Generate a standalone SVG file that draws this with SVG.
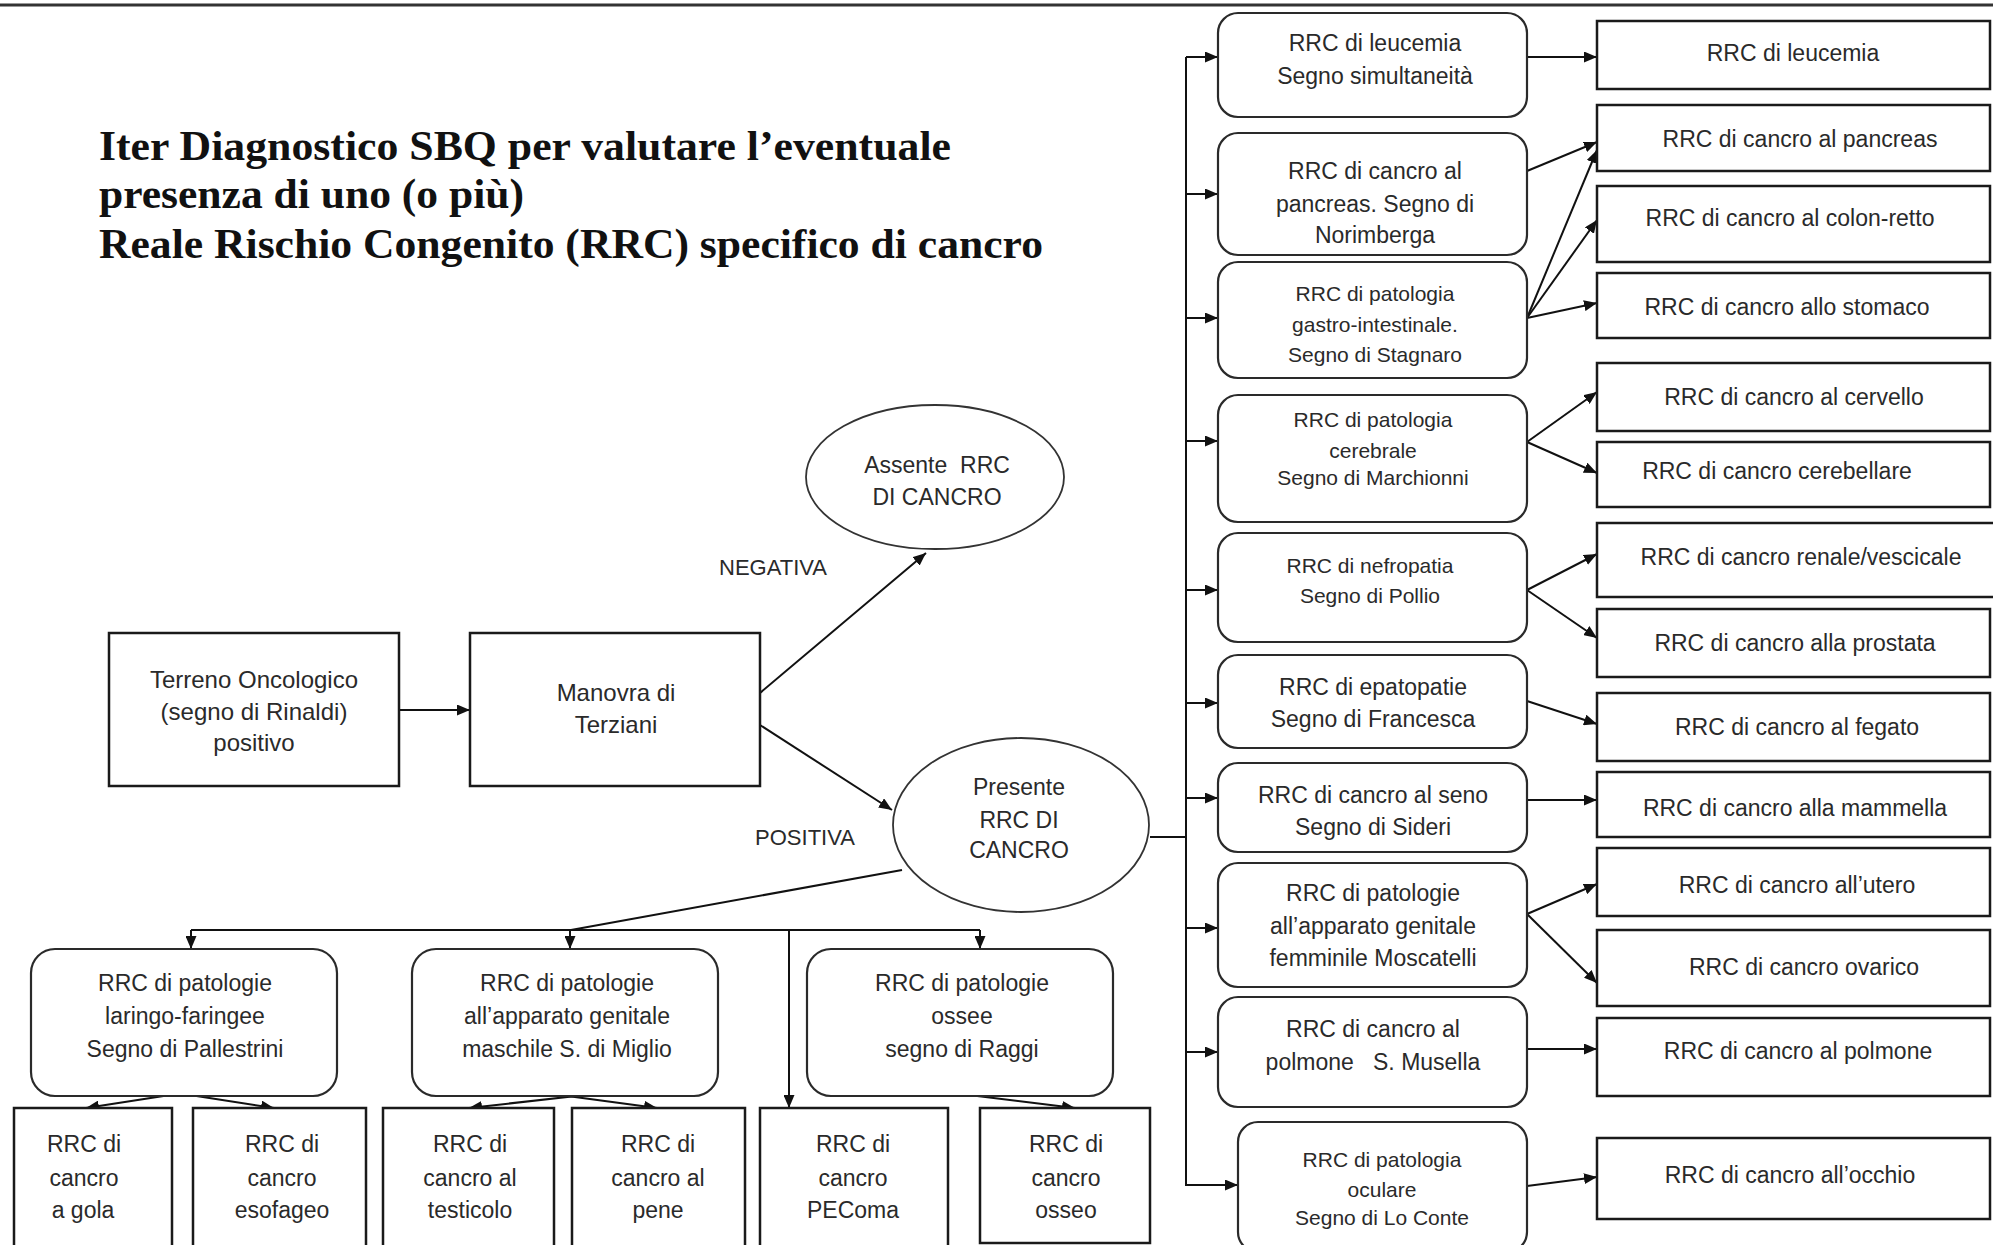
<svg xmlns="http://www.w3.org/2000/svg" width="1993" height="1245" viewBox="0 0 1993 1245">
<defs>
<marker id="arr" markerUnits="userSpaceOnUse" markerWidth="13" markerHeight="11" refX="13" refY="5.5" orient="auto">
<path d="M0,0 L13,5.5 L0,11 z" fill="#111"/>
</marker>
<style>
.bx{fill:#fff;stroke:#1a1a1a;stroke-width:2.5}
.rb{fill:#fff;stroke:#2a2a2a;stroke-width:2.2}
.el{fill:#fff;stroke:#333;stroke-width:1.8}
.t{font-family:"Liberation Sans",Arial,sans-serif;font-size:23px;fill:#2a2a2a;text-anchor:middle}
.s{font-size:21px}
.ttl{font-family:"Liberation Serif","Times New Roman",serif;font-weight:bold;font-size:43px;fill:#111}
.cn{fill:none;stroke:#111;stroke-width:2}
.ca{fill:none;stroke:#111;stroke-width:2;marker-end:url(#arr)}
</style>
</defs>
<rect x="0" y="0" width="1993" height="1245" fill="#fff"/>
<line x1="0" y1="5" x2="1993" y2="5" stroke="#333" stroke-width="3"/>
<g id="title">
<text class="ttl" x="99" y="160" textLength="852" lengthAdjust="spacingAndGlyphs">Iter Diagnostico SBQ per valutare l’eventuale</text>
<text class="ttl" x="99" y="208" textLength="425" lengthAdjust="spacingAndGlyphs">presenza di uno (o più)</text>
<text class="ttl" x="99" y="258" textLength="944" lengthAdjust="spacingAndGlyphs">Reale Rischio Congenito (RRC) specifico di cancro</text>
</g>

<g id="connectors">
<line class="ca" x1="399" y1="710" x2="470" y2="710"/>
<line class="ca" x1="760" y1="693" x2="926" y2="553"/>
<line class="ca" x1="760" y1="725" x2="892" y2="810"/>
<line class="cn" x1="1150" y1="837" x2="1186" y2="837"/>
<line class="cn" x1="1186" y1="57" x2="1186" y2="1186"/>
<line class="ca" x1="1186" y1="57" x2="1218" y2="57"/>
<line class="ca" x1="1186" y1="194" x2="1218" y2="194"/>
<line class="ca" x1="1186" y1="318" x2="1218" y2="318"/>
<line class="ca" x1="1186" y1="441" x2="1218" y2="441"/>
<line class="ca" x1="1186" y1="590" x2="1218" y2="590"/>
<line class="ca" x1="1186" y1="703" x2="1218" y2="703"/>
<line class="ca" x1="1186" y1="798" x2="1218" y2="798"/>
<line class="ca" x1="1186" y1="928" x2="1218" y2="928"/>
<line class="ca" x1="1186" y1="1052" x2="1218" y2="1052"/>
<line class="ca" x1="1186" y1="1185" x2="1238" y2="1185"/>
<line class="ca" x1="1527" y1="57" x2="1597" y2="57"/>
<line class="ca" x1="1527" y1="171" x2="1597" y2="142"/>
<line class="ca" x1="1527" y1="318" x2="1597" y2="150"/>
<line class="ca" x1="1527" y1="318" x2="1597" y2="220"/>
<line class="ca" x1="1527" y1="318" x2="1597" y2="303"/>
<line class="ca" x1="1527" y1="442" x2="1597" y2="392"/>
<line class="ca" x1="1527" y1="442" x2="1597" y2="473"/>
<line class="ca" x1="1527" y1="590" x2="1597" y2="554"/>
<line class="ca" x1="1527" y1="590" x2="1597" y2="638"/>
<line class="ca" x1="1527" y1="701" x2="1597" y2="724"/>
<line class="ca" x1="1527" y1="800" x2="1597" y2="800"/>
<line class="ca" x1="1527" y1="914" x2="1597" y2="884"/>
<line class="ca" x1="1527" y1="914" x2="1597" y2="983"/>
<line class="ca" x1="1527" y1="1049" x2="1597" y2="1049"/>
<line class="ca" x1="1527" y1="1186" x2="1597" y2="1177"/>
<line class="cn" x1="902" y1="870" x2="571" y2="930"/>
<line class="cn" x1="191" y1="930" x2="980" y2="930"/>
<line class="ca" x1="191" y1="930" x2="191" y2="949"/>
<line class="ca" x1="570" y1="930" x2="570" y2="949"/>
<line class="ca" x1="980" y1="930" x2="980" y2="949"/>
<line class="ca" x1="789" y1="930" x2="789" y2="1108"/>
<line class="ca" x1="170" y1="1095" x2="86" y2="1108"/>
<line class="ca" x1="190" y1="1095" x2="274" y2="1108"/>
<line class="ca" x1="585" y1="1095" x2="469" y2="1108"/>
<line class="ca" x1="560" y1="1095" x2="657" y2="1108"/>
<line class="ca" x1="969" y1="1095" x2="1075" y2="1108"/>
</g>

<g id="n-terreno"><rect class="bx" x="109" y="633" width="290" height="153"/>
<text class="t" x="254" y="688" style="font-size:24px">Terreno Oncologico</text>
<text class="t" x="254" y="720" style="font-size:24px">(segno di Rinaldi)</text>
<text class="t" x="254" y="751" style="font-size:24px">positivo</text></g>
<g id="n-manovra"><rect class="bx" x="470" y="633" width="290" height="153"/>
<text class="t" x="616" y="701" style="font-size:24px">Manovra di</text>
<text class="t" x="616" y="733" style="font-size:24px">Terziani</text></g>
<g id="n-assente"><ellipse class="el" cx="935" cy="477" rx="129" ry="72"/>
<text class="t" x="937" y="473" xml:space="preserve">Assente  RRC</text>
<text class="t" x="937" y="505">DI CANCRO</text></g>
<g id="l-negativa"><text class="t" x="773" y="575" style="font-size:22px">NEGATIVA</text></g>
<g id="l-positiva"><text class="t" x="805" y="845" style="font-size:22px">POSITIVA</text></g>
<g id="n-presente"><ellipse class="el" cx="1021" cy="825" rx="128" ry="87"/>
<text class="t" x="1019" y="795">Presente</text>
<text class="t" x="1019" y="828">RRC DI</text>
<text class="t" x="1019" y="858">CANCRO</text></g>

<g id="m-leucemia"><rect class="rb" x="1218" y="13" width="309" height="104" rx="20"/>
<text class="t" x="1375" y="51">RRC di leucemia</text>
<text class="t" x="1375" y="84">Segno simultaneità</text></g>
<g id="m-pancreas"><rect class="rb" x="1218" y="133" width="309" height="122" rx="20"/>
<text class="t" x="1375" y="179">RRC di cancro al</text>
<text class="t" x="1375" y="212">pancreas. Segno di</text>
<text class="t" x="1375" y="243">Norimberga</text></g>
<g id="m-gastro"><rect class="rb" x="1218" y="262" width="309" height="116" rx="20"/>
<text class="t s" x="1375" y="301">RRC di patologia</text>
<text class="t s" x="1375" y="332">gastro-intestinale.</text>
<text class="t s" x="1375" y="362">Segno di Stagnaro</text></g>
<g id="m-cerebrale"><rect class="rb" x="1218" y="395" width="309" height="127" rx="20"/>
<text class="t s" x="1373" y="427">RRC di patologia</text>
<text class="t s" x="1373" y="458">cerebrale</text>
<text class="t s" x="1373" y="485">Segno di Marchionni</text></g>
<g id="m-nefropatia"><rect class="rb" x="1218" y="533" width="309" height="109" rx="20"/>
<text class="t s" x="1370" y="573">RRC di nefropatia</text>
<text class="t s" x="1370" y="603">Segno di Pollio</text></g>
<g id="m-epatopatie"><rect class="rb" x="1218" y="655" width="309" height="93" rx="20"/>
<text class="t" x="1373" y="695">RRC di epatopatie</text>
<text class="t" x="1373" y="727">Segno di Francesca</text></g>
<g id="m-seno"><rect class="rb" x="1218" y="763" width="309" height="89" rx="20"/>
<text class="t" x="1373" y="803">RRC di cancro al seno</text>
<text class="t" x="1373" y="835">Segno di Sideri</text></g>
<g id="m-genitale-f"><rect class="rb" x="1218" y="863" width="309" height="124" rx="20"/>
<text class="t" x="1373" y="901">RRC di patologie</text>
<text class="t" x="1373" y="934">all’apparato genitale</text>
<text class="t" x="1373" y="966">femminile Moscatelli</text></g>
<g id="m-polmone"><rect class="rb" x="1218" y="997" width="309" height="110" rx="20"/>
<text class="t" x="1373" y="1037">RRC di cancro al</text>
<text class="t" x="1373" y="1070" xml:space="preserve">polmone   S. Musella</text></g>
<g id="m-oculare"><rect class="rb" x="1238" y="1122" width="289" height="130" rx="20"/>
<text class="t s" x="1382" y="1167">RRC di patologia</text>
<text class="t s" x="1382" y="1197">oculare</text>
<text class="t s" x="1382" y="1225">Segno di Lo Conte</text></g>

<g id="r-leucemia"><rect class="bx" x="1597" y="21" width="393" height="68"/><text class="t" x="1793" y="61">RRC di leucemia</text></g>
<g id="r-pancreas"><rect class="bx" x="1597" y="105" width="393" height="66"/><text class="t" x="1800" y="147">RRC di cancro al pancreas</text></g>
<g id="r-colon"><rect class="bx" x="1597" y="186" width="393" height="76"/><text class="t" x="1790" y="226">RRC di cancro al colon-retto</text></g>
<g id="r-stomaco"><rect class="bx" x="1597" y="273" width="393" height="65"/><text class="t" x="1787" y="315">RRC di cancro allo stomaco</text></g>
<g id="r-cervello"><rect class="bx" x="1597" y="363" width="393" height="68"/><text class="t" x="1794" y="405">RRC di cancro al cervello</text></g>
<g id="r-cerebellare"><rect class="bx" x="1597" y="442" width="393" height="65"/><text class="t" x="1777" y="479">RRC di cancro cerebellare</text></g>
<g id="r-renale"><rect class="bx" x="1597" y="523" width="410" height="74"/><text class="t" x="1801" y="565">RRC di cancro renale/vescicale</text></g>
<g id="r-prostata"><rect class="bx" x="1597" y="609" width="393" height="68"/><text class="t" x="1795" y="651">RRC di cancro alla prostata</text></g>
<g id="r-fegato"><rect class="bx" x="1597" y="693" width="393" height="68"/><text class="t" x="1797" y="735">RRC di cancro al fegato</text></g>
<g id="r-mammella"><rect class="bx" x="1597" y="772" width="393" height="65"/><text class="t" x="1795" y="816">RRC di cancro alla mammella</text></g>
<g id="r-utero"><rect class="bx" x="1597" y="848" width="393" height="68"/><text class="t" x="1797" y="893">RRC di cancro all’utero</text></g>
<g id="r-ovarico"><rect class="bx" x="1597" y="930" width="393" height="76"/><text class="t" x="1804" y="975">RRC di cancro ovarico</text></g>
<g id="r-polmone"><rect class="bx" x="1597" y="1018" width="393" height="78"/><text class="t" x="1798" y="1059">RRC di cancro al polmone</text></g>
<g id="r-occhio"><rect class="bx" x="1597" y="1138" width="393" height="81"/><text class="t" x="1790" y="1183">RRC di cancro all’occhio</text></g>

<g id="b-laringo"><rect class="rb" x="31" y="949" width="306" height="147" rx="24"/>
<text class="t" x="185" y="991">RRC di patologie</text>
<text class="t" x="185" y="1024">laringo-faringee</text>
<text class="t" x="185" y="1057">Segno di Pallestrini</text></g>
<g id="b-genitale-m"><rect class="rb" x="412" y="949" width="306" height="147" rx="24"/>
<text class="t" x="567" y="991">RRC di patologie</text>
<text class="t" x="567" y="1024">all’apparato genitale</text>
<text class="t" x="567" y="1057">maschile S. di Miglio</text></g>
<g id="b-ossee"><rect class="rb" x="807" y="949" width="306" height="147" rx="24"/>
<text class="t" x="962" y="991">RRC di patologie</text>
<text class="t" x="962" y="1024">ossee</text>
<text class="t" x="962" y="1057">segno di Raggi</text></g>

<g id="s-gola"><rect class="bx" x="14" y="1108" width="158" height="150"/>
<text class="t" x="84" y="1152">RRC di</text><text class="t" x="84" y="1186">cancro</text><text class="t" x="83" y="1218">a gola</text></g>
<g id="s-esofageo"><rect class="bx" x="193" y="1108" width="173" height="150"/>
<text class="t" x="282" y="1152">RRC di</text><text class="t" x="282" y="1186">cancro</text><text class="t" x="282" y="1218">esofageo</text></g>
<g id="s-testicolo"><rect class="bx" x="383" y="1108" width="171" height="150"/>
<text class="t" x="470" y="1152">RRC di</text><text class="t" x="470" y="1186">cancro al</text><text class="t" x="470" y="1218">testicolo</text></g>
<g id="s-pene"><rect class="bx" x="572" y="1108" width="173" height="150"/>
<text class="t" x="658" y="1152">RRC di</text><text class="t" x="658" y="1186">cancro al</text><text class="t" x="658" y="1218">pene</text></g>
<g id="s-pecoma"><rect class="bx" x="760" y="1108" width="188" height="150"/>
<text class="t" x="853" y="1152">RRC di</text><text class="t" x="853" y="1186">cancro</text><text class="t" x="853" y="1218">PEComa</text></g>
<g id="s-osseo"><rect class="bx" x="980" y="1108" width="170" height="135"/>
<text class="t" x="1066" y="1152">RRC di</text><text class="t" x="1066" y="1186">cancro</text><text class="t" x="1066" y="1218">osseo</text></g>
</svg>
